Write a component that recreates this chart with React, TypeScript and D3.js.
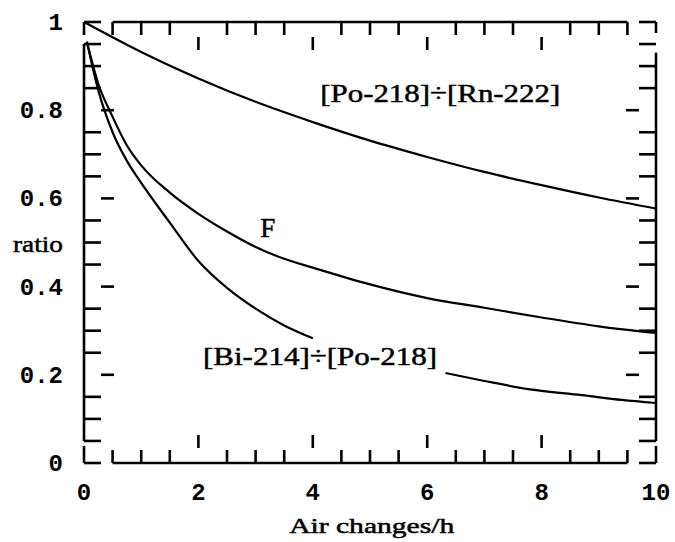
import React, { useEffect, useRef } from "react";
import * as d3 from "d3";

// [Po-218]/[Rn-222]
const poX = [0, 1, 2, 3, 4, 5, 6, 7, 8, 9, 10];
const poY = [1, 0.932, 0.872, 0.819, 0.773, 0.731, 0.694, 0.66, 0.63, 0.602, 0.577];

// equilibrium factor F
const fX = [0.05, 0.25, 0.5, 0.75, 1, 1.5, 2, 2.5, 3, 3.5, 4, 5, 6, 7, 8, 9, 10];
const fY = [0.955, 0.86, 0.785, 0.72, 0.675, 0.613, 0.565, 0.525, 0.49, 0.463, 0.443, 0.405, 0.374, 0.352, 0.33, 0.31, 0.295];

// [Bi-214]/[Po-218], broken by its label
const biX1 = [0.05, 0.25, 0.5, 0.75, 1, 1.5, 2, 2.5, 3, 3.5, 4];
const biY1 = [0.955, 0.845, 0.75, 0.685, 0.635, 0.545, 0.458, 0.397, 0.35, 0.312, 0.283];
const biX2 = [6.32, 7, 7.8, 8.7, 9.4, 10];
const biY2 = [0.204, 0.186, 0.167, 0.154, 0.143, 0.136];

const xTickLabels = ["0", "2", "4", "6", "8", "10"];
const yTickLabels = ["0", "0.2", "0.4", "0.6", "0.8", "1"];

const App = () => {
  const ref = useRef<SVGSVGElement>(null);

  useEffect(() => {
    const svg = d3.select(ref.current);
    svg.selectAll("*").remove();

    const x = d3.scaleLinear().domain([0, 10]).range([84, 656]);
    const y = d3.scaleLinear().domain([0, 1]).range([463, 22]);

    const frame = svg.append("g").attr("stroke", "black").attr("stroke-width", 2.6).attr("fill", "none");
    const seg = (x1: number, y1: number, x2: number, y2: number) =>
      frame.append("line").attr("x1", x1).attr("y1", y1).attr("x2", x2).attr("y2", y2);

    const L = x(0), R = x(10), T = y(1), B = y(0);

    // corners
    seg(L, T, L + 17, T); seg(L, T, L, T + 13);
    seg(R - 17, T, R, T); seg(R, T, R, T + 11);
    seg(L, B, L + 17, B); seg(L, B, L, B - 17);
    seg(R - 17, B, R, B); seg(R, B, R, B - 17);

    // axis lines
    seg(x(0.5), T, x(9.5), T);
    seg(x(0.5), B, x(9.5), B);
    seg(L, y(0.95), L, y(0.05));
    seg(R, y(0.93), R, y(0.05));

    // x ticks
    d3.range(1, 20).map((i) => i / 2).forEach((v) => {
      if (v % 2 === 0) {
        seg(x(v), T + 15, x(v), T + 28);
        seg(x(v), B - 15, x(v), B - 28);
      } else {
        seg(x(v), T, x(v), T + 13);
        seg(x(v), B, x(v), B - 13);
      }
    });

    // y ticks
    d3.range(1, 20).map((i) => i / 20).forEach((v) => {
      const major = Math.abs(v * 5 - Math.round(v * 5)) < 1e-6;
      if (major) {
        seg(L + 17, y(v), L + 30, y(v));
        seg(R - 17, y(v), R - 30, y(v));
      } else {
        seg(L, y(v), L + 17, y(v));
        seg(R, y(v), R - 17, y(v));
      }
    });

    // tick labels
    const mono = "'Liberation Mono', 'DejaVu Sans Mono', monospace";
    svg.append("g")
      .selectAll("text")
      .data(xTickLabels)
      .enter()
      .append("text")
      .attr("x", (d) => x(+d))
      .attr("y", 500)
      .attr("text-anchor", "middle")
      .attr("font-family", mono)
      .attr("font-weight", "bold")
      .attr("font-size", 24)
      .text((d) => d);

    svg.append("g")
      .selectAll("text")
      .data(yTickLabels)
      .enter()
      .append("text")
      .attr("x", 63)
      .attr("y", (d) => y(+d) + 8)
      .attr("text-anchor", "end")
      .attr("font-family", mono)
      .attr("font-weight", "bold")
      .attr("font-size", 24)
      .text((d) => d);

    // curves
    const line = d3
      .line<[number, number]>()
      .x((d) => x(d[0]))
      .y((d) => y(d[1]))
      .curve(d3.curveMonotoneX);

    const curves: [number, number][][] = [
      poX.map((v, i) => [v, poY[i]]),
      fX.map((v, i) => [v, fY[i]]),
      biX1.map((v, i) => [v, biY1[i]]),
      biX2.map((v, i) => [v, biY2[i]]),
    ];

    svg.append("g")
      .selectAll("path")
      .data(curves)
      .enter()
      .append("path")
      .attr("d", (d) => line(d))
      .attr("fill", "none")
      .attr("stroke", "black")
      .attr("stroke-width", 2.2);

    // labels
    const serif = "'Liberation Serif', 'DejaVu Serif', serif";
    const label = (t: string, px: number, py: number, size: number, len?: number, anchor = "start") => {
      const el = svg.append("text")
        .attr("x", px)
        .attr("y", py)
        .attr("font-family", serif)
        .attr("font-size", size)
        .attr("text-anchor", anchor)
        .attr("stroke", "black")
        .attr("stroke-width", 0.5)
        .text(t);
      if (len) el.attr("textLength", len).attr("lengthAdjust", "spacingAndGlyphs");
    };

    label("[Po-218]÷[Rn-222]", x(4.13), y(0.819), 26, 240);
    label("F", x(3.08), y(0.512), 27);
    label("[Bi-214]÷[Po-218]", x(2.08), y(0.222), 26, 234);
    label("ratio", 13, 252, 24, 50);
    label("Air changes/h", x(5.03), 533, 22, 165, "middle");
  }, []);

  return (
    <svg
      ref={ref}
      width={675}
      height={542}
      style={{ position: "absolute", left: 0, top: 0, background: "white" }}
    ></svg>
  );
};

export default App;
